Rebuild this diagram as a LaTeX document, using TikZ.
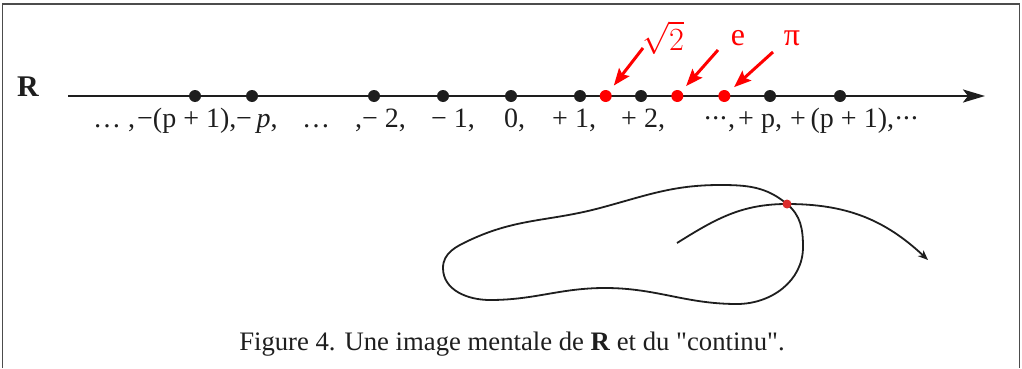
\documentclass[tikz,border=0pt]{standalone}
\usepackage{fontspec}
\setmainfont{Liberation Serif}[Ligatures=TeXOff]
\usetikzlibrary{arrows.meta}
\definecolor{ptred}{RGB}{255,0,0}
\definecolor{isectred}{RGB}{220,45,45}
\definecolor{ink}{RGB}{30,30,30}
\newcommand{\cdotsnarrow}{·\kern-1.5pt·\kern-1.5pt·}

\begin{document}
\begin{tikzpicture}[x=1pt, y=1pt,
  pt/.style={circle, fill=ink, inner sep=0pt, minimum size=12pt},
  rpt/.style={circle, fill=ptred, inner sep=0pt, minimum size=12pt},
  lab/.style={anchor=base west, inner sep=0pt, text=ink, font=\fontsize{28}{28}\selectfont},
  rlab/.style={text=ptred, inner sep=0pt, font=\fontsize{32}{32}\selectfont},
  rarrow/.style={ptred, line width=3pt, -{Stealth[length=17pt,width=13pt,inset=3pt]}, shorten >=7pt},
  curve/.style={ink, line width=1.8pt}]
\useasboundingbox (0,0) rectangle (1022,368);
\draw[gray!60!black, line width=1.5pt] (2.5,0) -- (2.5,364) -- (1019.5,364) -- (1019.5,0);

% the real line
\node[font=\fontsize{30}{30}\selectfont\bfseries, text=ink, anchor=base] (rname) at (28,272) {R};
\coordinate (axstart) at (68,272);
\coordinate (axend) at (985,272);
\draw[ink, line width=2.5pt, -{Stealth[length=22pt,width=13pt,inset=5pt]}] (axstart) -- (axend);

\foreach \x [count=\i] in {195,252,374,443,511,580,641,770,840}
  \node[pt] (d\i) at (\x,272) {};
\node[rpt] (dsqrt) at (605.7,272) {};
\node[rpt] (de) at (677.3,272) {};
\node[rpt] (dpi) at (724.3,272) {};

\foreach \x/\t [count=\i] in {93/{… ,}, 137/{−(p + 1),}, 236/{−\,\textit{p},}, 302/{…},
    355/{,− 2,}, 431/{− 1,}, 504/{0,}, 552/{+ 1,}, 621/{+ 2,}, 703/{\cdotsnarrow,},
    738/{+ p,}, 790/{+\,(p + 1),\cdotsnarrow}}
  \node[lab] (l\i) at (\x,241) {\t};

% irrationals
\node[rlab, scale=1.3] (lsqrt) at (663,330) {$\sqrt{2}$};
\node[rlab] (le) at (738,330) {e};
\node[rlab] (lpi) at (792,330) {π};
\coordinate (tsqrt) at (643,320);
\coordinate (te) at (718,318);
\coordinate (tpi) at (773,316);
\draw[rarrow] (tsqrt) -- (dsqrt);
\draw[rarrow] (te) -- (de);
\draw[rarrow] (tpi) -- (dpi);

% the continuum
\coordinate (isect) at (787,164);
\coordinate (cstart) at (677,125);
\coordinate (cend) at (928,108);
\draw[curve] (isect) to[out=-40,in=90] (803,121) to[out=-90,in=0] (737,64)
  to[out=180,in=0] (605,80) to[out=180,in=0] (490,68) to[out=180,in=-90] (443,100)
  to[out=90,in=205] (470,128) to[out=25,in=195] (600,160) to[out=15,in=180] (720,183)
  to[out=0,in=140] (isect) -- cycle;
\draw[curve, -{Stealth[length=10pt,width=8pt,inset=3pt]}] (cstart) to[out=32,in=180] (isect) to[out=0,in=137] (cend);
\node[circle, fill=isectred, inner sep=0pt, minimum size=9pt] (xdot) at (isect) {};

\node[font=\fontsize{26.7}{26.7}\selectfont, text=ink, anchor=base] (caption) at (512,18)
  {Figure 4. Une image mentale de \textbf{R} et du "continu".};
\end{tikzpicture}
\end{document}
